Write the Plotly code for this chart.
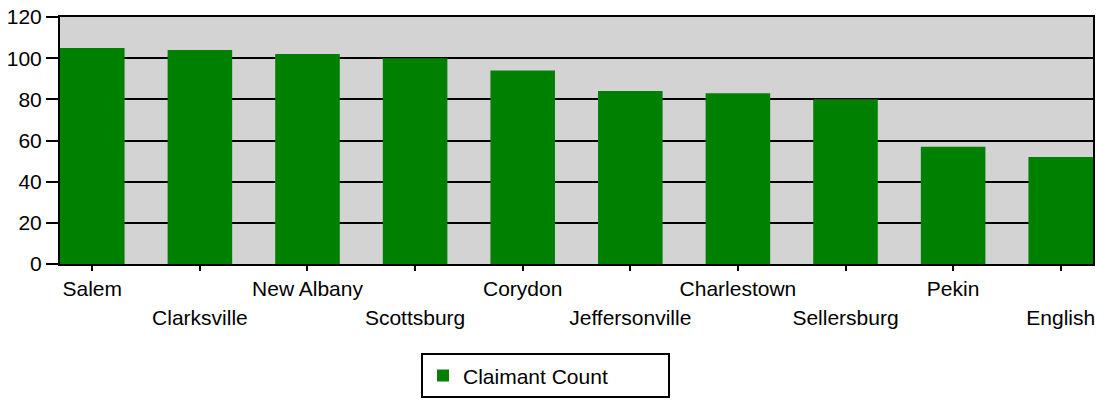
import plotly.graph_objects as go

# Claimant counts by city
cities = ["Salem", "Clarksville", "New Albany", "Scottsburg", "Corydon",
          "Jeffersonville", "Charlestown", "Sellersburg", "Pekin", "English"]
claimants = [105, 104, 102, 100, 94, 84, 83, 80, 57, 52]
y_ticks = [0, 20, 40, 60, 80, 100, 120]

positions = list(range(len(cities)))
# staggered category labels: even ones on the first row, odd ones on a second axis below
row1_text = [c if i % 2 == 0 else "" for i, c in enumerate(cities)]
row2_vals = [i for i in positions if i % 2 == 1]
row2_text = [cities[i] for i in row2_vals]

fig = go.Figure()
fig.add_trace(
    go.Bar(
        name="Claimant Count",
        x=positions,
        y=claimants,
        width=0.6,
        marker=dict(color="#008000", line=dict(width=0)),
    )
)
# invisible helper so the second label row axis gets drawn
fig.add_trace(
    go.Scatter(
        x=positions,
        y=claimants,
        xaxis="x2",
        mode="markers",
        marker=dict(opacity=0),
        showlegend=False,
        hoverinfo="skip",
    )
)

x_range = [-0.3, len(cities) - 0.7]

fig.update_layout(
    width=1097,
    height=402,
    margin=dict(l=60, r=4, t=17, b=138),
    paper_bgcolor="white",
    plot_bgcolor="#d3d3d3",
    font=dict(family="Liberation Sans, Arial, sans-serif", size=21, color="black"),
    showlegend=True,
    legend=dict(
        orientation="h",
        x=0.47,
        xanchor="center",
        y=-0.362,
        yanchor="top",
        bordercolor="black",
        borderwidth=2,
        font=dict(size=21),
        entrywidth=200,
    ),
    xaxis=dict(
        range=x_range,
        tickmode="array",
        tickvals=positions,
        ticktext=row1_text,
        tickangle=0,
        automargin=False,
        ticks="outside",
        ticklen=5,
        tickwidth=1.5,
        tickcolor="black",
        showline=True,
        linecolor="black",
        linewidth=2,
        mirror=True,
        showgrid=False,
        zeroline=False,
    ),
    xaxis2=dict(
        overlaying="x",
        anchor="y",
        side="bottom",
        range=x_range,
        tickmode="array",
        tickvals=row2_vals,
        ticktext=row2_text,
        tickangle=0,
        automargin=False,
        ticks="",
        ticklabelstandoff=39,
        showline=False,
        showgrid=False,
        zeroline=False,
    ),
    yaxis=dict(
        range=[0, 120],
        tickmode="array",
        tickvals=y_ticks,
        automargin=False,
        ticks="outside",
        ticklen=12,
        tickwidth=1.5,
        tickcolor="black",
        showline=True,
        linecolor="black",
        linewidth=2,
        mirror=True,
        showgrid=True,
        gridcolor="black",
        gridwidth=1.5,
        zeroline=False,
    ),
)

# drop the default 8px page margin so the figure fills the window exactly
fig.write_html(
    "out.html",
    config={"displayModeBar": False},
    post_script="document.body.style.margin = '0';",
)
